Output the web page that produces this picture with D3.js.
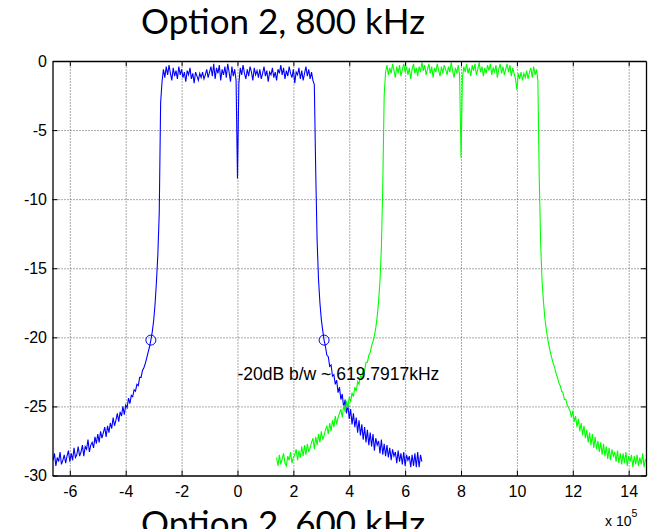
<!DOCTYPE html>
<html lang="en">
<head>
  <meta charset="utf-8">
  <title>Option 2, 800 kHz</title>
  <script src="https://cdn.jsdelivr.net/npm/d3@7"></script>
  <style>
    body { margin: 0; background: #fff; }
    .tick text { font-family: "Liberation Sans", Arial, sans-serif; font-size: 16px; fill: #000; }
    .grid line { stroke: #555; stroke-dasharray: 1 2; }
    .grid path { display: none; }
    .title { font-family: Lato, "Open Sans", sans-serif; font-size: 35px; fill: #000; }
  </style>
</head>
<body>
  <svg id="chart" width="648" height="529"></svg>

  <script>
  // sampling grid of the spectra (Hz)
  const freqStep = 0.05e5;
  const blueStart = -6.6e5;
  const greenStart = 1.4e5;

  // blue channel, dB
  const blueDb = [
    -28.9,-28.4,-29.3,-28.7,-29.0,-28.3,-29.2,-28.9,-28.5,-29.1,
    -28.6,-28.2,-29.0,-28.4,-28.9,-28.0,-28.7,-28.5,-27.9,-28.6,
    -28.3,-27.8,-28.6,-27.9,-28.1,-27.4,-28.3,-27.8,-27.6,-28.0,
    -27.2,-27.7,-27.0,-27.6,-26.8,-27.3,-26.9,-26.5,-27.2,-26.4,
    -26.9,-26.2,-26.6,-25.8,-26.4,-26.0,-25.5,-26.1,-25.4,-25.7,
    -25.0,-25.6,-24.9,-25.1,-24.4,-24.8,-24.2,-24.3,-23.8,-23.9,
    -23.4,-23.5,-22.9,-22.9,-22.4,-22.2,-21.9,-21.5,-21.1,-20.7,
    -20.2,-19.6,-18.8,-17.6,-16.0,-14.0,-11.0,-3.0,
    -1.5,-0.6,-1.2,-0.4,-1.0,-0.3,-0.9,-1.4,-0.5,-1.1,
    -0.7,-1.3,-0.4,-1.0,-0.6,-1.2,-0.8,-1.5,-0.7,-1.0,
    -0.5,-1.3,-0.9,-1.6,-0.8,-1.1,-1.4,-0.9,-1.2,-0.8,
    -1.3,-1.0,-0.6,-1.2,-0.8,-0.4,-1.1,-0.2,-1.3,-0.5,
    -0.9,-0.3,-1.4,-0.6,-1.0,-0.4,-1.2,-0.2,-0.8,-1.5,
    -0.4,-1.1,-0.6,-1.4,-8.5,-1.6,-0.5,-1.0,-0.3,-0.9,
    -1.3,-0.6,-1.1,-0.4,-0.8,-1.4,-0.5,-1.0,-0.7,-1.2,
    -0.6,-1.3,-0.9,-0.4,-1.1,-0.7,-1.5,-0.8,-1.0,-0.5,
    -1.2,-0.8,-1.4,-0.6,-0.9,-0.3,-1.0,-0.5,-1.3,-0.7,
    -1.1,-0.4,-0.9,-1.2,-0.6,-1.6,-0.8,-1.0,-0.5,-1.3,
    -0.7,-1.4,-0.9,-0.4,-1.1,-0.6,-1.3,-0.8,-1.4,-1.7,
    -8.0,-13.0,-15.8,-17.5,-18.7,-19.5,-20.2,-20.7,-21.3,-21.4,
    -22.1,-22.0,-22.8,-22.7,-23.4,-23.1,-24.0,-23.6,-24.5,-24.1,
    -25.1,-24.5,-25.5,-24.9,-25.9,-25.2,-26.3,-25.5,-26.5,-25.8,
    -26.9,-26.0,-27.1,-26.3,-27.4,-26.5,-27.6,-26.7,-27.8,-26.9,
    -27.9,-27.0,-28.2,-27.3,-27.8,-27.5,-28.4,-27.4,-28.5,-27.7,
    -28.6,-27.8,-28.7,-28.0,-28.9,-28.1,-28.6,-28.3,-29.1,-28.2,
    -29.0,-28.4,-29.2,-28.3,-29.3,-28.5,-28.9,-28.6,-29.4,-28.5,
    -29.3,-28.4,-29.4,-28.3,-29.4,-28.5,-29.0
  ];

  // green channel, dB
  const greenDb = [
    -28.7,-29.3,-28.5,-29.2,-28.8,-28.4,-29.1,-29.3,-28.6,-28.9,
    -28.3,-29.1,-28.7,-28.5,-28.1,-28.9,-28.2,-28.7,-27.9,-28.6,
    -27.8,-28.5,-27.7,-28.3,-28.0,-27.6,-27.3,-28.1,-27.2,-27.8,
    -27.0,-27.6,-26.8,-27.4,-27.1,-26.7,-26.4,-27.0,-26.2,-26.8,
    -26.0,-26.5,-25.7,-26.3,-25.8,-25.5,-25.2,-25.8,-24.9,-25.4,
    -24.6,-25.1,-24.3,-24.7,-24.0,-24.3,-23.6,-23.9,-23.2,-23.4,
    -22.8,-22.9,-22.3,-22.4,-21.8,-21.8,-21.3,-21.1,-20.6,-20.3,
    -19.9,-19.3,-18.5,-17.4,-15.9,-13.5,-9.0,-2.5,
    -0.8,-0.3,-1.0,-0.5,-0.9,-0.2,-0.7,-1.2,-0.4,-0.9,
    -0.3,-1.1,-0.6,-0.2,-0.8,-0.4,-1.0,-0.5,-1.3,-0.6,
    -0.2,-0.9,-0.5,-1.1,-0.4,-0.8,-0.1,-0.7,-0.3,-1.0,
    -0.6,-0.2,-0.9,-0.4,-1.2,-0.5,-0.8,-0.2,-0.7,-1.1,
    -0.4,-0.9,-0.3,-0.6,-1.0,-0.4,-0.8,-0.1,-0.7,-1.2,
    -0.5,-0.9,-0.3,-1.0,-7.0,-1.2,-0.4,-0.8,-0.2,-0.9,
    -0.5,-1.1,-0.3,-0.7,-0.2,-1.0,-0.6,-0.1,-0.8,-0.4,
    -1.1,-0.5,-0.9,-0.3,-0.7,-0.2,-1.0,-0.5,-0.8,-0.3,
    -1.2,-0.6,-0.2,-0.9,-0.4,-1.0,-0.6,-0.2,-0.8,-0.3,
    -1.1,-0.5,-0.9,-1.3,-2.1,-0.9,-1.3,-0.8,-1.4,-0.9,
    -1.2,-0.7,-1.3,-0.8,-0.5,-1.2,-0.4,-1.0,-0.6,-1.4,
    -8.5,-13.2,-15.9,-17.4,-18.6,-19.4,-20.1,-20.6,-21.1,-21.5,
    -21.9,-22.2,-22.6,-22.9,-23.3,-23.5,-23.9,-24.0,-24.5,-24.5,
    -24.9,-25.1,-25.3,-25.8,-25.3,-26.1,-25.7,-26.5,-25.9,-26.8,
    -26.2,-27.1,-26.4,-27.3,-26.7,-27.6,-26.9,-27.8,-27.0,-28.0,
    -27.2,-28.1,-27.5,-28.3,-27.6,-28.5,-27.7,-28.6,-27.9,-28.8,
    -28.0,-28.9,-28.1,-28.6,-28.3,-29.0,-28.2,-29.1,-28.4,-29.2,
    -28.4,-29.1,-28.3,-29.3,-28.6,-29.0,-28.5,-29.4,-28.6,-29.2,
    -28.5,-29.3,-28.7,-29.2,-28.4,-29.4,-28.8
  ];

  // -20 dB points on the blue channel
  const markerFreqs = [-3.099e5, 3.099e5];
  const markerDb = -20.2;
  const bwLabel = "-20dB b/w ~ 619.7917kHz";

  const xTicks = [-6e5, -4e5, -2e5, 0, 2e5, 4e5, 6e5, 8e5, 10e5, 12e5, 14e5];
  const yTicks = [0, -5, -10, -15, -20, -25, -30];
  const titleText = "Option 2, 800 kHz";
  const nextTitleText = "Option 2, 600 kHz";

  const svg = d3.select("#chart");
  const plotLeft = 52.5, plotRight = 646, plotTop = 61, plotBottom = 475.5;

  const x = d3.scaleLinear().domain([-6.62e5, 14.62e5]).range([plotLeft, plotRight]);
  const y = d3.scaleLinear().domain([-30, 0]).range([plotBottom, plotTop]);

  // grid
  svg.append("g").attr("class", "grid")
    .attr("transform", `translate(0,${plotBottom})`)
    .call(d3.axisBottom(x).tickValues(xTicks).tickSize(-(plotBottom - plotTop)).tickFormat(""));
  svg.append("g").attr("class", "grid")
    .attr("transform", `translate(${plotLeft},0)`)
    .call(d3.axisLeft(y).tickValues(yTicks.slice(1, -1)).tickSize(-(plotRight - plotLeft)).tickFormat(""));

  // curves
  svg.append("clipPath").attr("id", "plot-clip")
    .append("rect").attr("x", plotLeft).attr("y", plotTop - 2)
    .attr("width", plotRight - plotLeft).attr("height", plotBottom - plotTop + 2);

  const line = d3.line()
    .x(d => x(d[0]))
    .y(d => y(d[1]));

  const blue = blueDb.map((v, i) => [blueStart + i * freqStep, v]);
  const green = greenDb.map((v, i) => [greenStart + i * freqStep, v]);

  const curves = svg.append("g").attr("clip-path", "url(#plot-clip)");
  curves.append("path").datum(blue)
    .attr("d", line).attr("fill", "none").attr("stroke", "#0000ff").attr("stroke-width", 1.1);
  curves.append("path").datum(green)
    .attr("d", line).attr("fill", "none").attr("stroke", "#00ff00").attr("stroke-width", 1.1);

  curves.selectAll("circle").data(markerFreqs).enter().append("circle")
    .attr("cx", d => x(d)).attr("cy", y(markerDb)).attr("r", 5)
    .attr("fill", "none").attr("stroke", "#0000ff").attr("stroke-width", 1);

  svg.append("text")
    .attr("x", x(0)).attr("y", y(-23.07))
    .attr("font-family", "Liberation Sans, Arial, sans-serif")
    .attr("font-size", 17.5)
    .text(bwLabel);

  // axes with inward ticks
  const fmtX = d => String(d / 1e5);
  svg.append("g").attr("transform", `translate(0,${plotBottom})`)
    .call(d3.axisBottom(x).tickValues(xTicks).tickSizeInner(-5).tickSizeOuter(0).tickPadding(10).tickFormat(fmtX));
  svg.append("g").attr("transform", `translate(0,${plotTop})`)
    .call(d3.axisTop(x).tickValues(xTicks).tickSizeInner(-5).tickSizeOuter(0).tickFormat(""));
  svg.append("g").attr("transform", `translate(${plotLeft},0)`)
    .call(d3.axisLeft(y).tickValues(yTicks).tickSizeInner(-5).tickSizeOuter(0).tickPadding(5.5).tickFormat(d => String(d)));
  svg.append("g").attr("transform", `translate(${plotRight},0)`)
    .call(d3.axisRight(y).tickValues(yTicks).tickSizeInner(-5).tickSizeOuter(0).tickFormat(""));

  svg.selectAll(".domain").attr("stroke", "#000").attr("stroke-width", 1.3);
  svg.selectAll(".tick line").filter(function() { return !this.closest(".grid"); })
    .attr("stroke", "#000");

  // exponent label
  const expo = svg.append("text")
    .attr("x", 605).attr("y", 526)
    .attr("font-family", "Liberation Sans, Arial, sans-serif")
    .attr("font-size", 14);
  expo.append("tspan").text("x 10");
  expo.append("tspan").attr("font-size", 10.5).attr("dy", -9).text("5");

  // titles
  svg.append("text").attr("class", "title")
    .attr("x", 283).attr("y", 34).attr("text-anchor", "middle")
    .text(titleText);
  svg.append("text").attr("class", "title")
    .attr("x", 283).attr("y", 536).attr("text-anchor", "middle")
    .text(nextTitleText);
  </script>
</body>
</html>
